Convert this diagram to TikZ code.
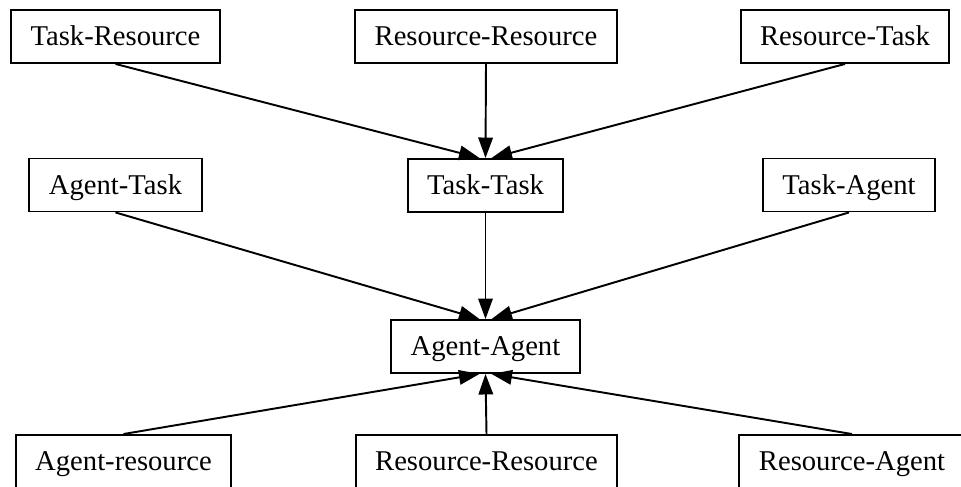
\documentclass[tikz,border=0pt]{standalone}
\usepackage{fontspec}
\setmainfont{Liberation Serif}
\usetikzlibrary{arrows.meta}

\begin{document}
\begin{tikzpicture}[
  rel/.style={
    draw, line width=1.1pt, rectangle,
    minimum height=1.06cm, inner xsep=0.39cm,
    text height=0.39cm, text depth=0.02cm,
    font=\fontsize{16.3}{19}\selectfont, align=center
  },
  arr/.style={-{Triangle[length=0.41cm, width=0.29cm]}, line width=1.1pt},
]
\useasboundingbox (0,0) rectangle (19.22,9.74);

\node[rel] (tr)  at (2.31,  9.01) {Task-Resource};
\node[rel] (rr1) at (9.72,  9.01) {Resource-Resource};
\node[rel] (rt)  at (16.90, 9.01) {Resource-Task};

\node[rel] (at)  at (2.31,  6.04) {Agent-Task};
\node[rel] (tt)  at (9.71,  6.03) {Task-Task};
\node[rel] (ta)  at (16.98, 6.04) {Task-Agent};

\node[rel] (aa)  at (9.71,  2.81) {Agent-Agent};

\node[rel] (ar)  at (2.47,  0.51) {Agent-resource};
\node[rel] (rr2) at (9.73,  0.51) {Resource-Resource};
\node[rel] (ra)  at (17.04, 0.51) {Resource-Agent};

\draw[arr] (tr.south)  -- ([xshift=-0.12cm]tt.north);
\draw[arr] (rr1.south) -- (tt.north);
\draw[arr] (rt.south)  -- ([xshift=0.12cm]tt.north);
\draw[arr] (at.south)  -- ([xshift=-0.12cm]aa.north);
\draw[arr] (tt.south)  -- (aa.north);
\draw[arr] (ta.south)  -- ([xshift=0.12cm]aa.north);
\draw[arr] (ar.north)  -- ([xshift=-0.12cm]aa.south);
\draw[arr] (rr2.north) -- (aa.south);
\draw[arr] (ra.north)  -- ([xshift=0.12cm]aa.south);

\end{tikzpicture}
\end{document}
